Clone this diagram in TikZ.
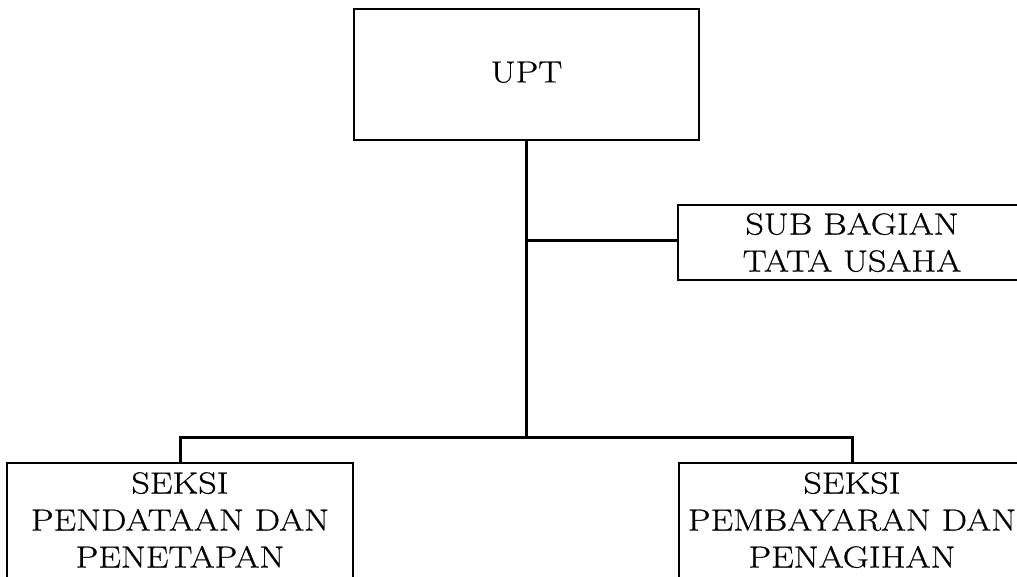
\documentclass[tikz,border=0pt]{standalone}
\usepackage{fontspec}
\newfontfamily\boxfont{Latin Modern Roman}[FakeStretch=1.18,FakeBold=0.6]
\begin{document}
\begin{tikzpicture}[x=1pt,y=-1pt,
  lbl/.style={font=\boxfont\fontsize{30.5}{37}\selectfont,align=center,inner sep=0pt},
  box/.style={draw=black,line width=1.8pt,fill=white,inner sep=0pt,lbl},
  link/.style={draw=black,line width=3pt}]
\useasboundingbox (0,0) rectangle (1017,577);
\clip (0,0) rectangle (1017,577);
\coordinate (mid) at (526.5,241);
\coordinate (bus) at (526.5,437);
\node[box,minimum width=345pt,minimum height=131pt] (upt) at (526.5,74.5) {\raisebox{5pt}{UPT}};
\node[box,minimum width=348pt,minimum height=75pt] (sub) at (852,242.5) {SUB BAGIAN\\TATA USAHA};
\node[box,minimum width=346pt,minimum height=140pt,anchor=north] (left) at (180,462) {};
\node[box,minimum width=346pt,minimum height=140pt,anchor=north] (right) at (852,462) {};
\node[lbl,anchor=north] (lefttext) at (180,472) {SEKSI\\PENDATAAN DAN\\PENETAPAN};
\node[lbl,anchor=north] (righttext) at (852,472) {SEKSI\\PEMBAYARAN DAN\\PENAGIHAN};
\draw[link] (upt.south) -- (bus);
\draw[link] (mid) -- (mid -| sub.west);
\draw[link] (left.north) |- (bus) -| (right.north);
\end{tikzpicture}
\end{document}
